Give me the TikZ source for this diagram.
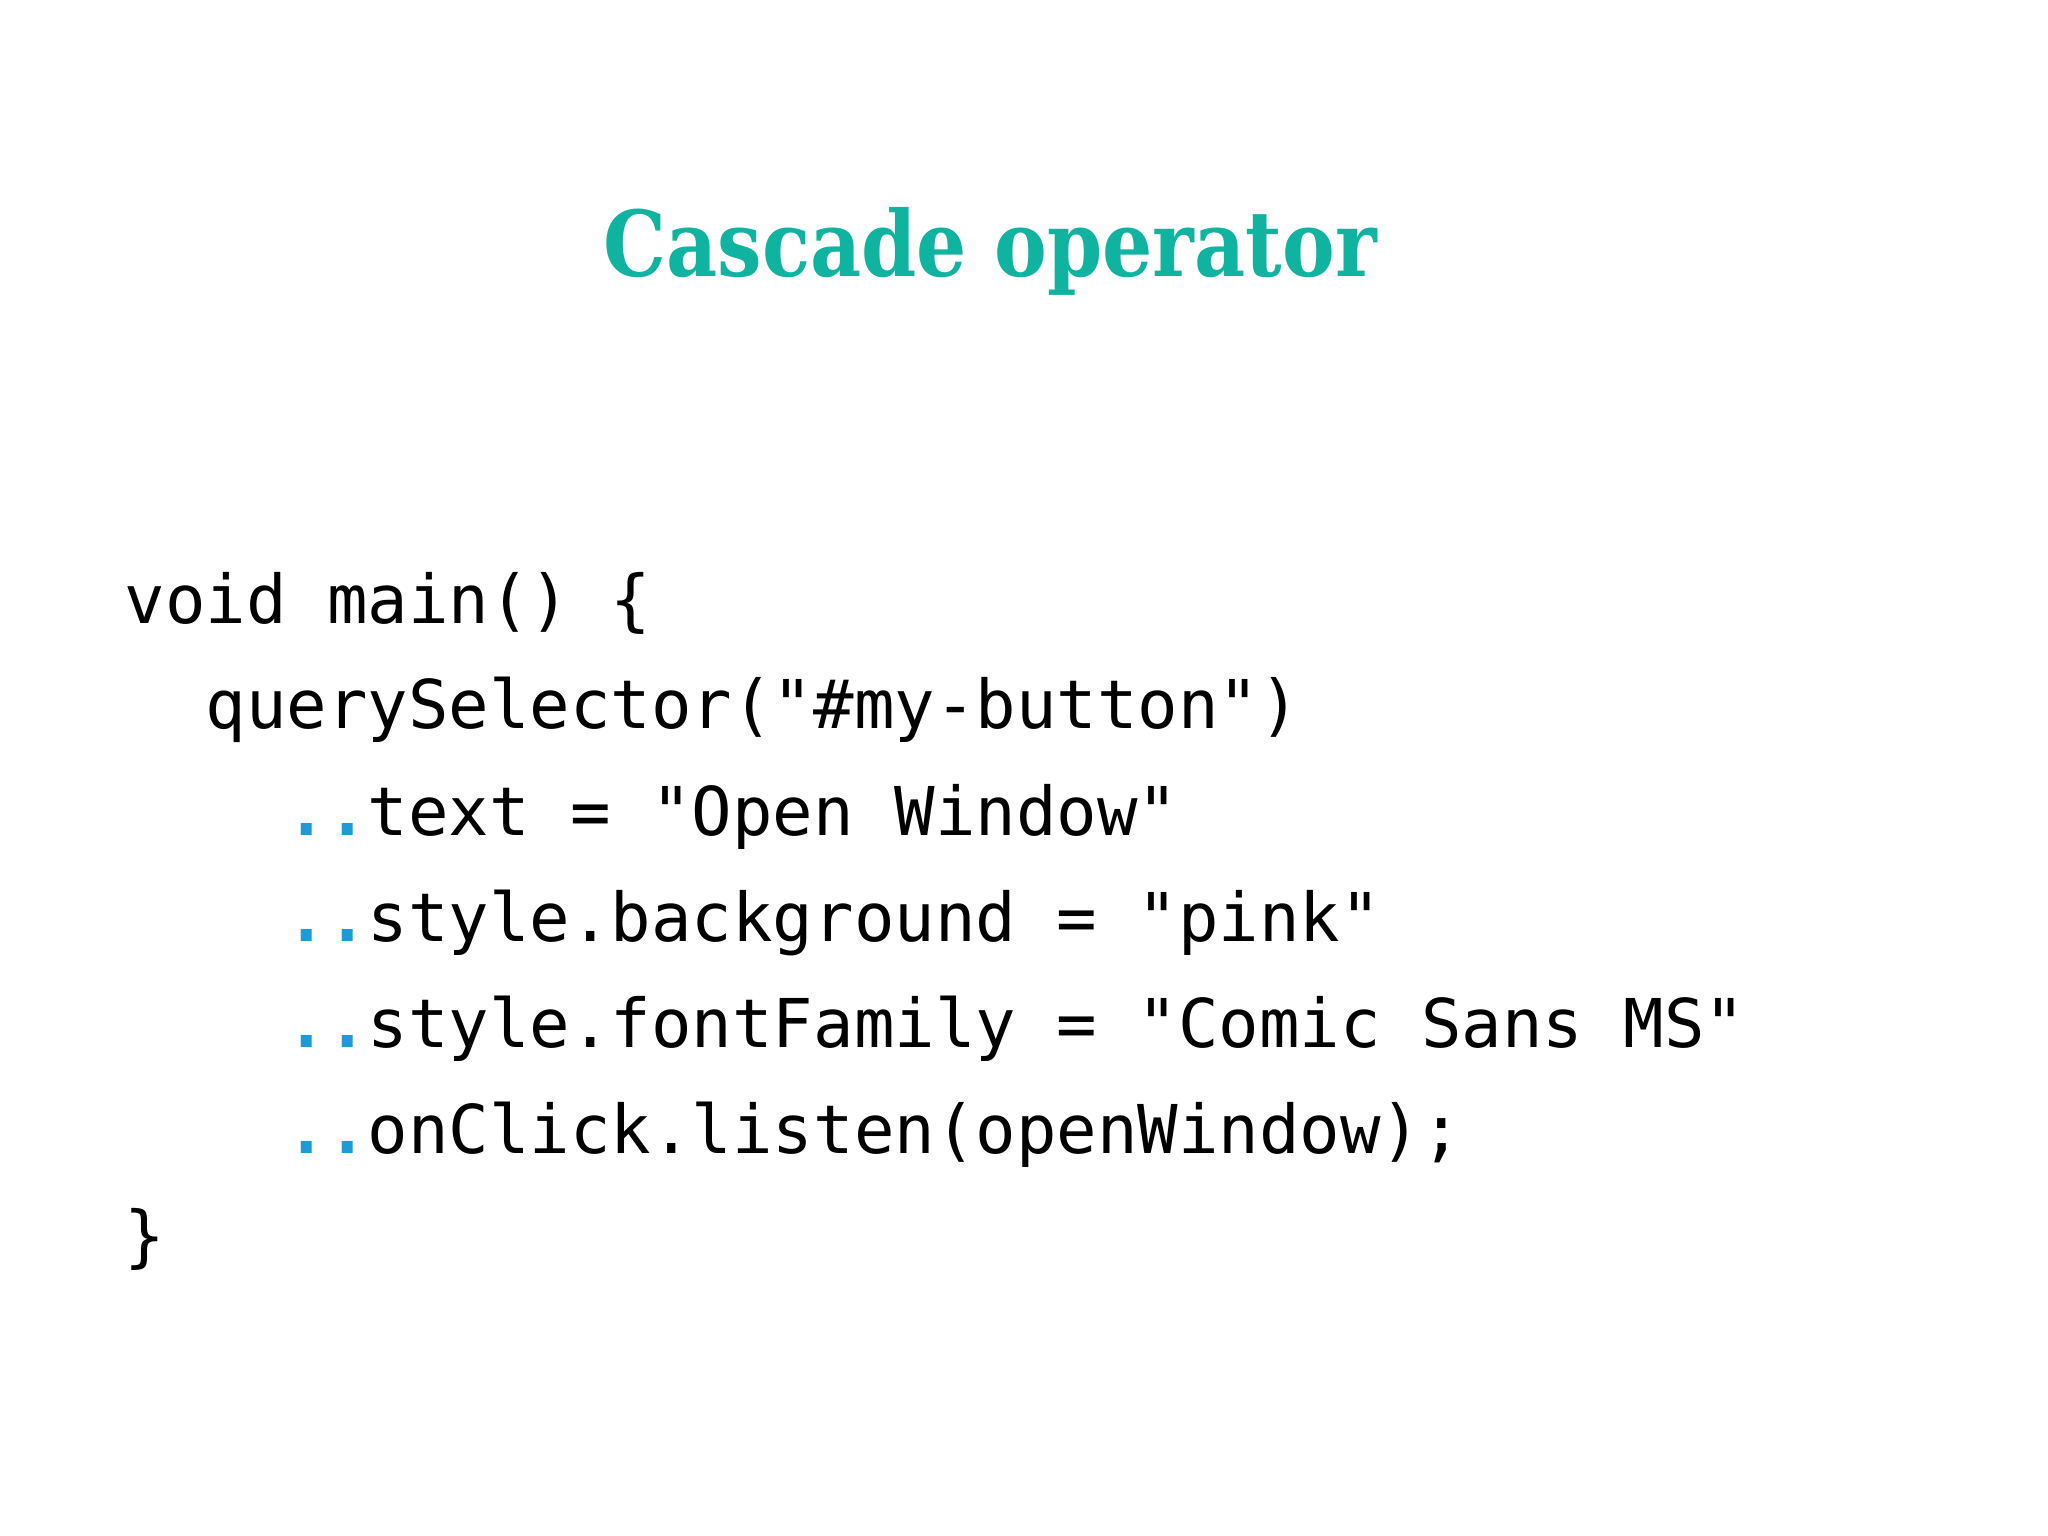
\documentclass[tikz,border=0pt]{standalone}
\usepackage{fontspec}
\setmainfont{DejaVu Serif}
\setmonofont{DejaVu Sans Mono}
\definecolor{teal1}{RGB}{16,178,160}
\definecolor{dotblue}{RGB}{30,155,215}
\tikzset{code/.style={anchor=base west,inner sep=0pt,font=\fontsize{19.15}{20}\selectfont\ttfamily}}
\newcommand{\dd}{\textcolor{dotblue}{\textbf{..}}}
\begin{document}
\begin{tikzpicture}
\useasboundingbox (0,0) rectangle (20.48,-15.36);
\node[anchor=base,inner sep=0pt,text=teal1,font=\fontsize{22.5}{26}\selectfont\bfseries,yscale=1.15] (title) at (9.9,-2.77) {Cascade operator};
\node[code] (l1) at (1.24,-6.23) {void main() \{};
\node[code] (l2) at (1.24,-7.29) {\ \ querySelector("\#my-button")};
\node[code] (l3) at (1.24,-8.35) {\ \ \ \ \dd text = "Open Window"};
\node[code] (l4) at (1.24,-9.41) {\ \ \ \ \dd style.background = "pink"};
\node[code] (l5) at (1.24,-10.47) {\ \ \ \ \dd style.fontFamily = "Comic Sans MS"};
\node[code] (l6) at (1.24,-11.53) {\ \ \ \ \dd onClick.listen(openWindow);};
\node[code] (l7) at (1.24,-12.59) {\}};
\end{tikzpicture}
\end{document}
